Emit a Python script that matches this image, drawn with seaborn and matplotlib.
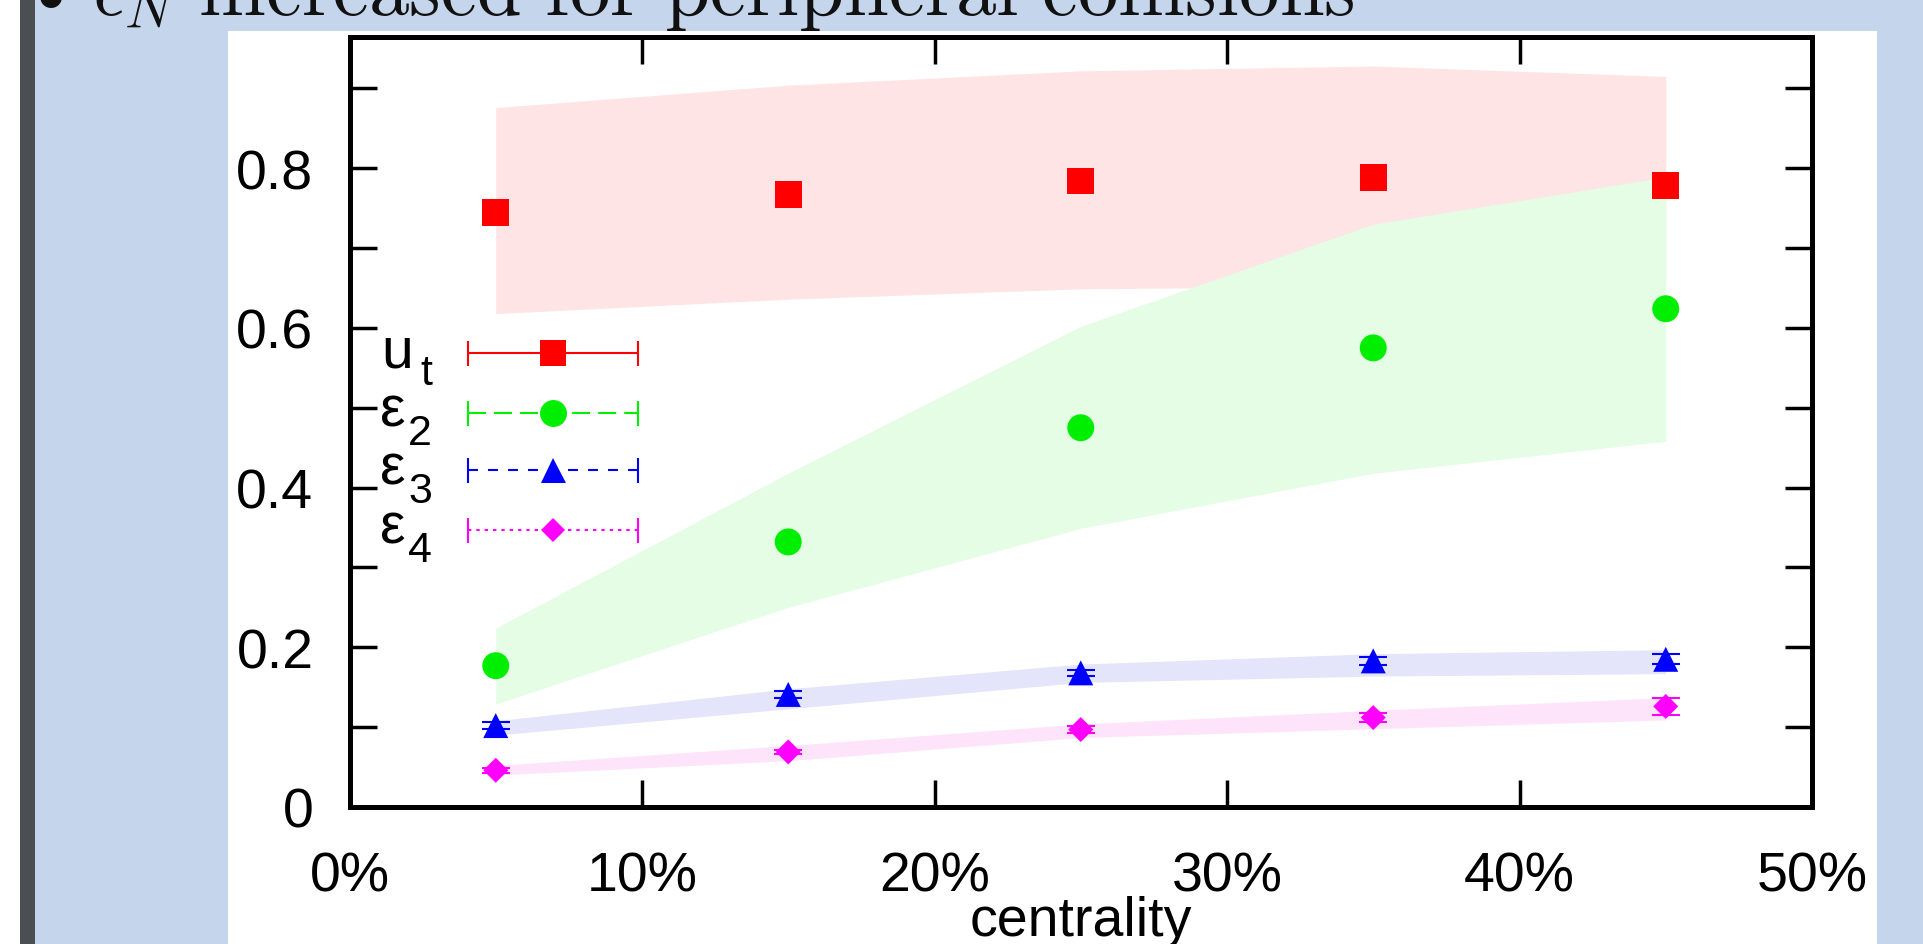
import matplotlib
matplotlib.use("Agg")
import matplotlib.pyplot as plt
import matplotlib.transforms as mtransforms
import numpy as np
import pandas as pd
import seaborn as sns
from matplotlib.patches import Rectangle
from matplotlib.ticker import FuncFormatter, MultipleLocator

# centrality bins (%)
centrality = [5, 15, 25, 35, 45]

# measured values
ut = [0.744, 0.767, 0.784, 0.788, 0.778]
eps2 = [0.177, 0.332, 0.475, 0.575, 0.624]
eps3 = [0.102, 0.141, 0.168, 0.183, 0.185]
eps4 = [0.046, 0.069, 0.097, 0.112, 0.126]

# errors (u_t and eps2 errors hidden under the markers)
ut_err = [0.0, 0.0, 0.0, 0.0, 0.0]
eps2_err = [0.0, 0.0, 0.0, 0.0, 0.0]
eps3_err = [0.004, 0.004, 0.004, 0.005, 0.006]
eps4_err = [0.003, 0.003, 0.004, 0.006, 0.011]

# model bands
ut_lo = [0.618, 0.636, 0.649, 0.652, 0.655]
ut_hi = [0.876, 0.904, 0.922, 0.928, 0.915]
eps2_lo = [0.129, 0.250, 0.349, 0.418, 0.458]
eps2_hi = [0.224, 0.418, 0.602, 0.730, 0.789]
eps3_lo = [0.090, 0.123, 0.156, 0.164, 0.167]
eps3_hi = [0.108, 0.148, 0.179, 0.192, 0.197]
eps4_lo = [0.040, 0.058, 0.087, 0.098, 0.109]
eps4_hi = [0.052, 0.077, 0.104, 0.121, 0.137]

names = ["ut", "eps2", "eps3", "eps4"]
label_main = ["u", "ε", "ε", "ε"]
label_sub = ["t", "2", "3", "4"]
colors = {"ut": "#ff0000", "eps2": "#00ee00", "eps3": "#0000ff", "eps4": "#ff00ff"}
band_colors = {"ut": "#fee4e4", "eps2": "#e4fde4", "eps3": "#e4e4fb", "eps4": "#fde4fb"}
markers = {"ut": "s", "eps2": "o", "eps3": "^", "eps4": "D"}
sizes = {"ut": 376, "eps2": 376, "eps3": 324, "eps4": 162}
msizes = {"ut": 19.4, "eps2": 19.4, "eps3": 18, "eps4": 12.7}
dashes = {"ut": None, "eps2": (8.6, 3.9), "eps3": (4.8, 4.8), "eps4": (1.6, 2.4)}

values = {"ut": ut, "eps2": eps2, "eps3": eps3, "eps4": eps4}
errors = {"ut": ut_err, "eps2": eps2_err, "eps3": eps3_err, "eps4": eps4_err}
bands = {"ut": (ut_lo, ut_hi), "eps2": (eps2_lo, eps2_hi),
         "eps3": (eps3_lo, eps3_hi), "eps4": (eps4_lo, eps4_hi)}

df = pd.DataFrame({
    "centrality": centrality * 4,
    "value": ut + eps2 + eps3 + eps4,
    "series": [n for n in names for _ in centrality],
})

sns.set_theme(style="ticks")
plt.rcParams["font.family"] = ["Liberation Sans", "DejaVu Sans"]

W, H = 1923, 945
fig = plt.figure(figsize=(W / 100, H / 100), dpi=100, facecolor="#c5d5eb")

# slide decoration
fig.add_artist(Rectangle((0, 0), 20 / W, 1, transform=fig.transFigure,
                         color="white", lw=0, zorder=-2))
fig.add_artist(Rectangle((20 / W, 0), 15 / W, 1, transform=fig.transFigure,
                         color="#4b4e53", lw=0, zorder=-2))
fig.add_artist(Rectangle((228 / W, 0), (1877 - 228) / W, (H - 32) / H,
                         transform=fig.transFigure, color="white", lw=0, zorder=-2))
fig.text(51 / W, 1 - 5 / H, "•", fontsize=54, ha="center", va="center",
         family="DejaVu Sans", color="#111111")
fig.text(92 / W, 1 - 15 / H,
         r"$\epsilon_N\ \mathrm{increased\ for\ peripheral\ collisions}$",
         math_fontfamily="cm", fontsize=58, ha="left", va="baseline", color="#111111")

ax = fig.add_axes([349.5 / W, 1 - 808 / H, (1812 - 349.5) / W, (808 - 37.5) / H])
ax.set_facecolor("white")

for n in names:
    lo, hi = bands[n]
    ax.fill_between(centrality, lo, hi, color=band_colors[n], lw=0, zorder=1)

for n in names:
    if max(errors[n]) == 0:
        continue
    eb = ax.errorbar(centrality, values[n], yerr=errors[n], fmt="none",
                     ecolor=colors[n], elinewidth=1.5, capsize=10, capthick=1.5, zorder=3)
    if dashes[n] is not None:
        eb[2][0].set_linestyle((0, dashes[n]))

sns.scatterplot(data=df, x="centrality", y="value", hue="series", style="series",
                size="series", palette=colors, markers=markers, sizes=sizes,
                linewidth=0, legend=False, ax=ax, zorder=4)

# legend drawn gnuplot-style (horizontal sample with end caps)
leg_y = [0.589, 0.512, 0.437, 0.360]
x0, x1, xm = 0.081, 0.197, 0.139
x_main = [0.0432, 0.0385, 0.0385, 0.0385]
x_sub = 0.0564
main_tr = mtransforms.offset_copy(ax.transAxes, fig=fig, y=-9.5, units="points")
sub_tr = mtransforms.offset_copy(ax.transAxes, fig=fig, y=-22.5, units="points")
for n, lm, ls_, xl, y in zip(names, label_main, label_sub, x_main, leg_y):
    kw = dict(transform=ax.transAxes, color=colors[n], clip_on=False, zorder=5)
    if dashes[n] is None:
        ax.plot([x0, x1], [y, y], lw=1.5, **kw)
    else:
        ax.plot([x0, x1], [y, y], lw=1.5, dashes=dashes[n], **kw)
    ax.plot([x0, x1], [y, y], ls="none", marker="|", ms=18, mew=1.5, **kw)
    ax.plot([xm], [y], ls="none", marker=markers[n], ms=msizes[n], mew=0, **kw)
    ax.text(xl, y, lm, transform=main_tr, ha="right", va="baseline",
            fontsize=41, color="black")
    ax.text(x_sub, y, ls_, transform=sub_tr, ha="right", va="baseline",
            fontsize=31, color="black")

ax.set_xlim(0, 50)
ax.set_ylim(0, 0.965)
ax.set_xticks([0, 10, 20, 30, 40, 50])
ax.xaxis.set_major_formatter(FuncFormatter(lambda v, _: f"{v:g}%"))
ax.set_yticks([0, 0.2, 0.4, 0.6, 0.8])
ax.yaxis.set_minor_locator(MultipleLocator(0.1))
ax.yaxis.set_major_formatter(FuncFormatter(lambda v, _: f"{v:g}"))
ax.tick_params(which="both", direction="in", length=19.4, width=2.5, top=True,
               right=True, color="black", labelcolor="black", labelsize=40)
ax.tick_params(axis="y", pad=26)
ax.tick_params(axis="x", pad=31)
for s in ax.spines.values():
    s.set_linewidth(3.6)
    s.set_color("black")
ax.set_xlabel("centrality", fontsize=40, labelpad=-5, color="black")
ax.set_ylabel("")

fig.savefig("out.png", dpi=100, facecolor=fig.get_facecolor())
